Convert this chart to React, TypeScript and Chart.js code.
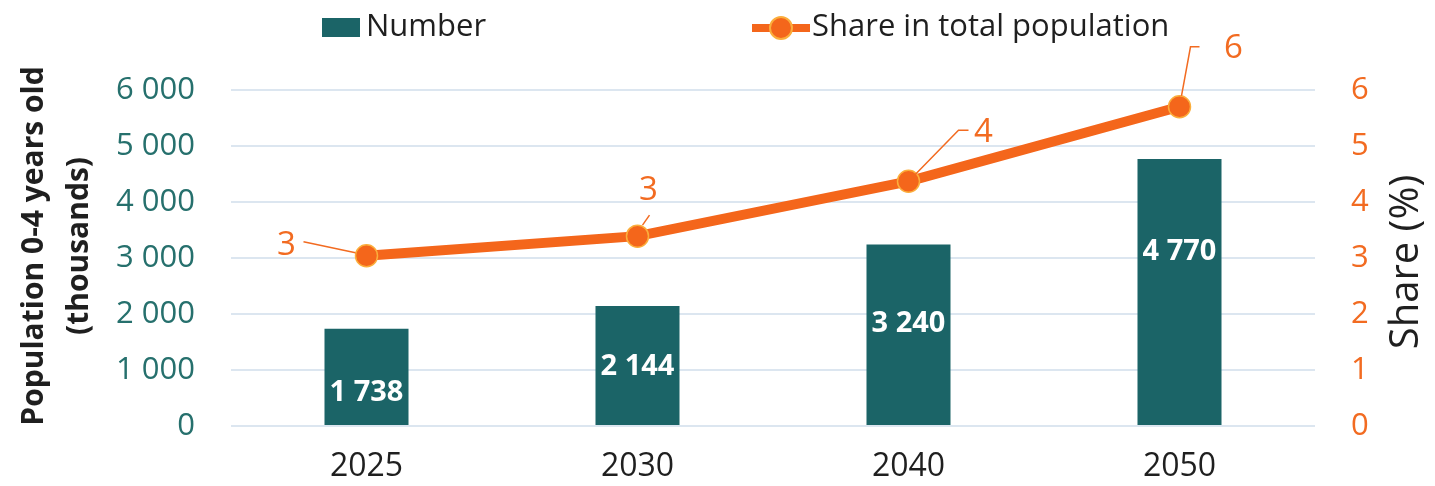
import React, { useEffect, useRef } from 'react';
import { Chart, registerables } from 'chart.js';

Chart.register(...registerables);

// ---- Data ----
const categories = ['2025', '2030', '2040', '2050'];
const numberValues = [1738, 2144, 3240, 4770];
const shareValues = [3.04, 3.39, 4.37, 5.7];
const numberLabel = 'Number';
const shareLabel = 'Share in total population';
const leftTitle = ['Population 0-4 years old', '(thousands)'];
const rightTitle = 'Share (%)';
const leftMax = 6000;
const leftStep = 1000;
const rightMax = 6;
const rightStep = 1;

// ---- Styles ----
const FONT = "'Open Sans', 'Noto Sans', sans-serif";
const TEAL = '#1b6467';
const TEAL_TICK = '#26706d';
const ORANGE = '#F4661B';
const ORANGE_TEXT = '#F26B21';
const MARKER_BORDER = '#FBAE3C';
const GRID = '#DCE6F0';
const TEXT = '#1f1f1f';

const fmtThousands = (n: number) =>
  String(Math.round(n)).replace(/\B(?=(\d{3})+(?!\d))/g, ' ');

const barLabelFrac = [0.66, 0.51, 0.44, 0.35];
const lineLabelLayout: { label: [number, number]; leader: [number, number][] }[] = [
  { label: [-80, -10], leader: [[-63, -14], [-11, -3]] },
  { label: [11, -46], leader: [[12, -21], [5, -11]] },
  { label: [75, -49], leader: [[60, -51], [50, -51], [7, -7]] },
  { label: [54, -58], leader: [[20, -60], [11, -60], [2, -11]] },
];

const customPlugin = {
  id: 'customDraw',
  afterDatasetsDraw(chart: any) {
    const ctx = chart.ctx as CanvasRenderingContext2D;
    // bar labels
    const barMeta = chart.getDatasetMeta(0);
    ctx.save();
    ctx.font = `bold 29px ${FONT}`;
    ctx.fillStyle = '#ffffff';
    ctx.textAlign = 'center';
    ctx.textBaseline = 'middle';
    barMeta.data.forEach((el: any, i: number) => {
      const top = el.y;
      const bottom = el.base;
      const y = top + barLabelFrac[i] * (bottom - top);
      ctx.fillText(fmtThousands(chart.data.datasets[0].data[i]), el.x, y);
    });
    ctx.restore();

    // line labels with leaders
    const lineMeta = chart.getDatasetMeta(1);
    ctx.save();
    ctx.font = `33px ${FONT}`;
    ctx.fillStyle = ORANGE_TEXT;
    ctx.strokeStyle = ORANGE_TEXT;
    ctx.lineWidth = 1.5;
    ctx.textAlign = 'center';
    ctx.textBaseline = 'middle';
    lineMeta.data.forEach((pt: any, i: number) => {
      const lay = lineLabelLayout[i];
      ctx.beginPath();
      lay.leader.forEach((p, j) => {
        if (j === 0) ctx.moveTo(pt.x + p[0], pt.y + p[1]);
        else ctx.lineTo(pt.x + p[0], pt.y + p[1]);
      });
      ctx.stroke();
      const v = chart.data.datasets[1].data[i] as number;
      ctx.fillText(String(Math.round(v)), pt.x + lay.label[0], pt.y + lay.label[1]);
    });
    ctx.restore();
  },
  afterDraw(chart: any) {
    const ctx = chart.ctx as CanvasRenderingContext2D;
    const area = chart.chartArea;
    // legend
    ctx.save();
    ctx.fillStyle = TEAL;
    ctx.fillRect(322, 18, 38, 19);
    ctx.font = `31px ${FONT}`;
    ctx.fillStyle = TEXT;
    ctx.textBaseline = 'middle';
    ctx.textAlign = 'left';
    ctx.fillText(chart.data.datasets[0].label, 366, 27);
    ctx.strokeStyle = ORANGE;
    ctx.lineWidth = 8;
    ctx.beginPath();
    ctx.moveTo(752, 28);
    ctx.lineTo(810, 28);
    ctx.stroke();
    ctx.beginPath();
    ctx.arc(781, 28, 11, 0, Math.PI * 2);
    ctx.fillStyle = ORANGE;
    ctx.fill();
    ctx.lineWidth = 2;
    ctx.strokeStyle = MARKER_BORDER;
    ctx.stroke();
    ctx.fillStyle = TEXT;
    ctx.fillText(chart.data.datasets[1].label, 812, 27);
    ctx.restore();

    // left title (two lines, rotated)
    ctx.save();
    ctx.font = `bold 30px ${FONT}`;
    ctx.fillStyle = TEXT;
    ctx.textAlign = 'center';
    ctx.textBaseline = 'alphabetic';
    const cy = 246;
    const baselines = [43, 88];
    leftTitle.forEach((line, i) => {
      ctx.save();
      ctx.translate(baselines[i], cy);
      ctx.rotate(-Math.PI / 2);
      ctx.fillText(line, 0, 0);
      ctx.restore();
    });
    ctx.restore();

    // right title
    ctx.save();
    ctx.font = `40px ${FONT}`;
    ctx.fillStyle = TEXT;
    ctx.textAlign = 'center';
    ctx.textBaseline = 'middle';
    ctx.translate(1407, (area.top + area.bottom) / 2 + 4);
    ctx.rotate(-Math.PI / 2);
    ctx.fillText(rightTitle, 0, 0);
    ctx.restore();
  },
};

export default function App() {
  const ref = useRef<HTMLCanvasElement>(null);
  useEffect(() => {
    const chart = new Chart(ref.current as HTMLCanvasElement, {
      type: 'bar',
      data: {
        labels: categories,
        datasets: [
          {
            type: 'bar',
            label: numberLabel,
            data: numberValues,
            backgroundColor: TEAL,
            barPercentage: 0.31,
            categoryPercentage: 1,
            yAxisID: 'y',
            order: 1,
          } as any,
          {
            type: 'line',
            label: shareLabel,
            data: shareValues,
            borderColor: ORANGE,
            borderWidth: 10,
            pointRadius: 11,
            pointBackgroundColor: ORANGE,
            pointBorderColor: MARKER_BORDER,
            pointBorderWidth: 1.5,
            tension: 0,
            yAxisID: 'y1',
            order: 0,
          } as any,
        ],
      },
      options: {
        responsive: false,
        animation: false,
        events: [],
        layout: { padding: { top: 90, left: 0, right: 0, bottom: 0 } },
        plugins: {
          legend: { display: false },
          tooltip: { enabled: false },
          title: { display: false },
        },
        scales: {
          x: {
            type: 'category',
            grid: { display: false, drawTicks: false },
            border: { display: false },
            ticks: { color: TEXT, font: { family: FONT, size: 32 }, padding: 22 },
            afterFit: (s: any) => { s.height = 60; },
          },
          y: {
            position: 'left',
            min: 0,
            max: leftMax,
            grid: { color: GRID, lineWidth: 2, drawTicks: false },
            border: { display: false },
            ticks: {
              stepSize: leftStep,
              color: TEAL_TICK,
              font: { family: FONT, size: 31 },
              padding: 36,
              callback: (v: any) => fmtThousands(Number(v)),
            },
            afterFit: (s: any) => { s.width = 231; },
          },
          y1: {
            position: 'right',
            min: 0,
            max: rightMax,
            grid: { display: false, drawTicks: false },
            border: { display: false },
            ticks: {
              stepSize: rightStep,
              color: ORANGE_TEXT,
              font: { family: FONT, size: 31 },
              padding: 36,
            },
            afterFit: (s: any) => { s.width = 120; },
          },
        },
      } as any,
      plugins: [customPlugin],
    });
    return () => chart.destroy();
  }, []);
  return (
    <div style={{ position: 'absolute', left: 0, top: 0, width: 1435, height: 486, background: '#ffffff' }}>
      <canvas ref={ref} width={1435} height={486} style={{ display: 'block' }} />
    </div>
  );
}
